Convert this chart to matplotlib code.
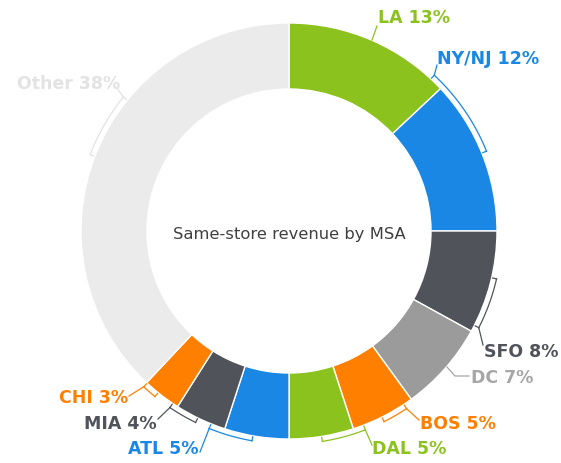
import numpy as np
import matplotlib.pyplot as plt

# data
labels = ['LA', 'NY/NJ', 'SFO', 'DC', 'BOS', 'DAL', 'ATL', 'MIA', 'CHI', 'Other']
shares = [13, 12, 8, 7, 5, 5, 5, 4, 3, 38]
colors = ['#8cc21e', '#1a87e5', '#505359', '#9b9b9b', '#ff8000',
          '#8cc21e', '#1a87e5', '#505359', '#ff8000', '#ebebeb']
text_colors = ['#8cc21e', '#1a87e5', '#505359', '#a6a6a6', '#ff8000',
               '#8cc21e', '#1a87e5', '#505359', '#ff8000', '#e3e3e3']
title = 'Same-store revenue by MSA'

W, H = 561, 464
cx, cy = 289, 232
R, ring = 208, 66

# label layout in pixels (y from top): text anchor, alignment,
# bracket arc (deg, leader starts at first angle), leader points
layout = {
    'LA':    dict(xy=(378, 18), ha='left', arc=None, lead=[(372, 41), (377, 27)]),
    'NY/NJ': dict(xy=(437, 59), ha='left', arc=(47, 22), lead=[(437, 66)]),
    'SFO':   dict(xy=(484, 352), ha='left', arc=(-27, -13), lead=[(483, 346)]),
    'DC':    dict(xy=(471, 378), ha='left', arc=None, lead=[(447, 368), (455, 377), (469, 377)]),
    'BOS':   dict(xy=(420, 424), ha='left', arc=(-56.5, -63.5), lead=[(419, 421)]),
    'DAL':   dict(xy=(372, 449), ha='left', arc=(-69, -81), lead=[(372, 446)]),
    'ATL':   dict(xy=(198, 449), ha='right', arc=(-112, -100), lead=[(200, 453)]),
    'MIA':   dict(xy=(157, 424), ha='right', arc=(-124, -116), lead=[(158, 420)]),
    'CHI':   dict(xy=(128, 398), ha='right', arc=(-133, -129), lead=[(129, 397)]),
    'Other': dict(xy=(17, 84), ha='left', arc=(141, 159), lead=[(116, 88)]),
}


def polar(a, r):
    t = np.radians(a)
    return cx + r * np.cos(t), cy + r * np.sin(t)


fig = plt.figure(figsize=(W / 100, H / 100), dpi=100)
ax = fig.add_axes([0, 0, 1, 1])
ax.pie(shares, colors=colors, startangle=90, counterclock=False,
       radius=R, center=(cx, cy),
       wedgeprops=dict(width=ring, edgecolor='white', linewidth=1))
ax.set_xlim(0, W)
ax.set_ylim(0, H)
ax.set_aspect('equal')
ax.axis('off')

ax.text(cx, cy - 3, title, ha='center', va='center', fontsize=11.8, color='#404040')

rb = R + 5
for lab, val, tc in zip(labels, shares, text_colors):
    lo = layout[lab]
    lc = tc
    xs, ys = [], []
    if lo['arc'] is not None:
        a1, a2 = lo['arc']
        t = np.linspace(a1, a2, 40)
        px, py = polar(t, rb)
        ax.plot(px, py, color=lc, lw=0.9)
        for a in (a1, a2):
            p0 = polar(a, rb)
            p1 = polar(a, R + 1)
            ax.plot([p0[0], p1[0]], [p0[1], p1[1]], color=lc, lw=0.9)
        x0, y0 = polar(a1, rb)
        xs.append(x0)
        ys.append(y0)
    for (x, y) in lo['lead']:
        xs.append(x)
        ys.append(H - y)
    ax.plot(xs, ys, color=lc, lw=0.9)
    tx, ty = lo['xy']
    ax.text(tx, H - ty, f'{lab} {val}%', ha=lo['ha'], va='center',
            fontsize=12.5, fontweight='bold', color=tc)

fig.savefig('out.png', dpi=100)
